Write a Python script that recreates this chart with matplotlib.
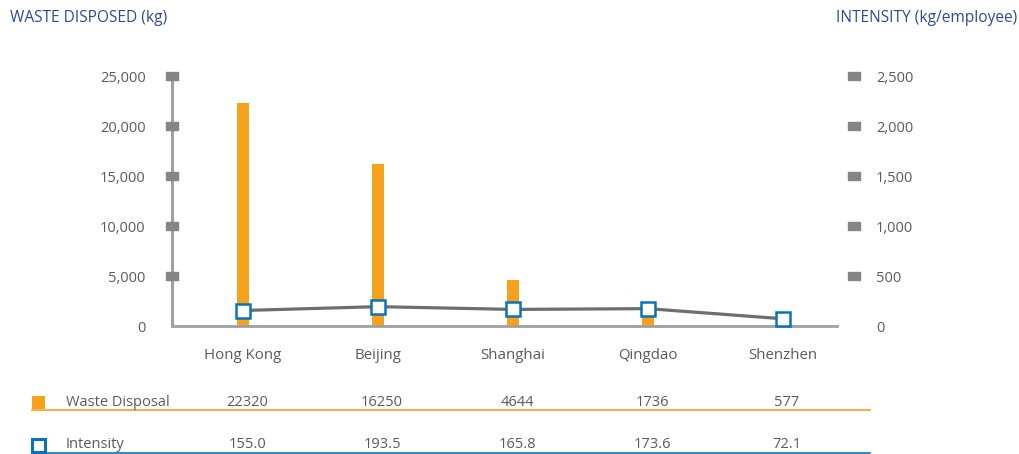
import matplotlib.pyplot as plt
import matplotlib.transforms as mtransforms
from matplotlib.lines import Line2D
from matplotlib.patches import Rectangle

# data
cities = ['Hong Kong', 'Beijing', 'Shanghai', 'Qingdao', 'Shenzhen']
waste_kg = [22320, 16250, 4644, 1736, 577]
intensity = [155.0, 193.5, 165.8, 173.6, 72.1]
waste_labels = ['22320', '16250', '4644', '1736', '577']
intensity_labels = ['155.0', '193.5', '165.8', '173.6', '72.1']
left_ticks = [0, 5000, 10000, 15000, 20000, 25000]
right_ticks = [0, 500, 1000, 1500, 2000, 2500]

ORANGE = '#F7A21B'
BLUE = '#0A72BA'
LINE_GREY = '#6D6E71'
AXIS_GREY = '#A0A0A3'
MARK_GREY = '#858589'
TEXT_GREY = '#5A5A5A'
TITLE_BLUE = '#2E4A94'

plt.rcParams['font.family'] = ['Open Sans', 'DejaVu Sans']

W, H = 1020, 454
fig = plt.figure(figsize=(W / 100, H / 100), dpi=100)
ax = fig.add_axes([172 / W, 1 - 326 / H, (837 - 172) / W, (326 - 76) / H])
ax2 = ax.twinx()

x = list(range(len(cities)))
ax.bar(x, waste_kg, width=0.09, color=ORANGE, zorder=2)
ax.set_xlim(-0.526, 4.4)
ax.set_ylim(0, 25000)
ax2.set_ylim(0, 2500)

ax2.plot(x, intensity, color=LINE_GREY, lw=2.3, marker='s', ms=10,
         mfc='white', mec=BLUE, mew=1.8, zorder=5, clip_on=False)

# spines
for a in (ax, ax2):
    for s in ('top', 'right'):
        a.spines[s].set_visible(False)
ax2.spines['left'].set_visible(False)
ax2.spines['bottom'].set_visible(False)
ax.spines['left'].set_color(AXIS_GREY)
ax.spines['left'].set_linewidth(2.2)
ax.spines['bottom'].set_color(AXIS_GREY)
ax.spines['bottom'].set_linewidth(2.0)

ax.set_yticks(left_ticks)
ax.set_yticklabels([f'{v:,}' for v in left_ticks])
ax.tick_params(axis='y', length=0, pad=19, labelsize=10.5, labelcolor=TEXT_GREY)
ax2.set_yticks(right_ticks)
ax2.set_yticklabels([f'{v:,}' for v in right_ticks])
ax2.tick_params(axis='y', length=0, pad=28, labelsize=10.5, labelcolor=TEXT_GREY)
ax.set_xticks(x)
ax.set_xticklabels(cities)
ax.tick_params(axis='x', length=0, pad=16, labelsize=10.8, labelcolor=TEXT_GREY)

# grey square tick markers
rect = [(-1, -0.72), (1, -0.72), (1, 0.72), (-1, 0.72), (-1, -0.72)]
tl = mtransforms.blended_transform_factory(ax.transAxes, ax.transData)
ax.plot([0] * 5, left_ticks[1:], ls='none', marker=rect, ms=8, color=MARK_GREY,
        transform=tl, clip_on=False, zorder=6)
tr = mtransforms.blended_transform_factory(ax2.transAxes, ax2.transData)
ax2.plot([(854 - 172) / (837 - 172)] * 5, right_ticks[1:], ls='none', marker=rect,
         ms=8, color=MARK_GREY, transform=tr, clip_on=False)

# titles
fig.text(10 / W, 1 - 18 / H, 'WASTE DISPOSED (kg)', color=TITLE_BLUE,
         fontsize=11.2, ha='left', va='center')
fig.text(1017 / W, 1 - 18 / H, 'INTENSITY (kg/employee)', color=TITLE_BLUE,
         fontsize=11.2, ha='right', va='center')

# data table under chart
tt = mtransforms.blended_transform_factory(ax.transData, fig.transFigure)
rows = [(waste_labels, 'Waste Disposal', 402, 410, ORANGE, True),
        (intensity_labels, 'Intensity', 445, 453, BLUE, False)]
for labels, name, yc, yl, col, filled in rows:
    fig.patches.append(Rectangle((32 / W, 1 - (yc + 7) / H), 13 / W, 13 / H,
                                 transform=fig.transFigure,
                                 facecolor=col if filled else 'white',
                                 edgecolor=col, lw=0 if filled else 2.2))
    fig.text(66 / W, 1 - yc / H, name, color=TEXT_GREY, fontsize=10.5,
             ha='left', va='center')
    for xi, lab in zip(x, labels):
        fig.text(xi + 0.03, 1 - yc / H, lab, transform=tt, color=TEXT_GREY,
                 fontsize=10.5, ha='center', va='center')
    fig.lines.append(Line2D([32 / W, 870 / W], [1 - yl / H, 1 - yl / H],
                            transform=fig.transFigure, color=col, lw=1.2))

fig.savefig('out.png', dpi=100, facecolor='white')
